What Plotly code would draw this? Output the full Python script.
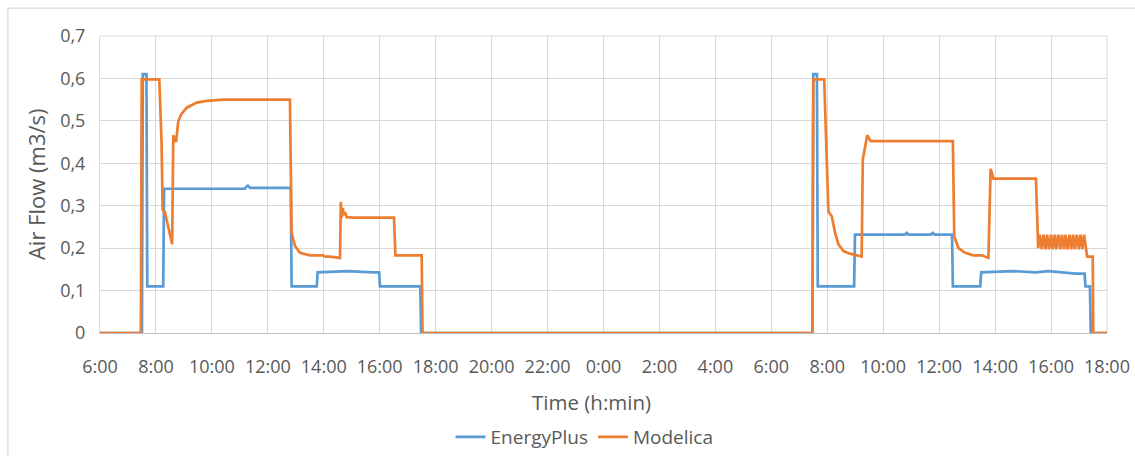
import plotly.graph_objects as go

# time in hours since midnight of day 1 (day 2 = +24)
ep_t = [6.0, 7.50, 7.53, 7.66, 7.69, 8.26, 8.29, 11.18, 11.26, 11.30, 11.36, 12.82, 12.85,
        13.75, 13.78, 14.87, 15.76, 15.98, 16.01, 17.45, 17.48,
        31.47, 31.50, 31.63, 31.66, 32.96, 32.99, 34.78, 34.84, 34.90, 35.70, 35.77, 35.84,
        36.46, 36.49, 37.47, 37.50, 38.62, 39.43, 39.90, 40.89, 41.20, 41.23, 41.39, 41.42, 42.0]
ep_v = [0.0, 0.0, 0.61, 0.61, 0.11, 0.11, 0.34, 0.34, 0.347, 0.347, 0.342, 0.342, 0.11,
        0.11, 0.143, 0.146, 0.143, 0.143, 0.11, 0.11, 0.0,
        0.0, 0.61, 0.61, 0.11, 0.11, 0.232, 0.232, 0.236, 0.232, 0.232, 0.236, 0.232,
        0.232, 0.11, 0.11, 0.143, 0.146, 0.143, 0.146, 0.140, 0.140, 0.11, 0.11, 0.0, 0.0]

mo_t = [6.0, 7.46, 7.49, 8.12, 8.20, 8.24, 8.32, 8.45, 8.58, 8.62, 8.68, 8.72, 8.80, 8.90,
        9.10, 9.46, 9.81, 10.41, 12.79, 12.85, 12.97, 13.15, 13.51, 13.97, 14.05, 14.22, 14.58,
        14.61, 14.64, 14.68, 14.72, 14.76, 14.82, 15.05, 16.51, 16.56, 17.50, 17.53,
        31.47, 31.50, 31.89, 31.96, 32.04, 32.16, 32.28, 32.40, 32.58, 32.81, 33.11, 33.23,
        33.27, 33.38, 33.43, 33.55, 36.49, 36.54, 36.69, 36.93, 37.22, 37.52, 37.76,
        37.84, 37.94, 39.46, 39.54,
        39.60, 39.67, 39.73, 39.80, 39.86, 39.93, 40.00, 40.06, 40.13, 40.19, 40.26, 40.33,
        40.39, 40.46, 40.52, 40.59, 40.66, 40.72, 40.79, 40.85, 40.92, 40.99, 41.05, 41.12,
        41.18, 41.25, 41.29, 41.49, 41.51, 42.0]
mo_v = [0.0, 0.0, 0.598, 0.598, 0.45, 0.29, 0.285, 0.25, 0.209, 0.466, 0.455, 0.45, 0.50, 0.515,
        0.531, 0.543, 0.547, 0.55, 0.55, 0.236, 0.205, 0.189, 0.183, 0.183, 0.180, 0.180, 0.177,
        0.309, 0.272, 0.295, 0.278, 0.285, 0.273, 0.272, 0.272, 0.183, 0.183, 0.0,
        0.0, 0.598, 0.598, 0.45, 0.287, 0.275, 0.236, 0.209, 0.193, 0.187, 0.183, 0.180,
        0.409, 0.450, 0.466, 0.452, 0.452, 0.228, 0.200, 0.189, 0.183, 0.183, 0.177,
        0.387, 0.364, 0.364, 0.200,
        0.232, 0.197, 0.232, 0.197, 0.232, 0.197, 0.232, 0.197, 0.232, 0.197, 0.232, 0.197,
        0.232, 0.197, 0.232, 0.197, 0.232, 0.197, 0.232, 0.197, 0.232, 0.197, 0.232, 0.197,
        0.232, 0.197, 0.180, 0.180, 0.0, 0.0]

tick_vals = list(range(6, 43, 2))
tick_text = ["6:00", "8:00", "10:00", "12:00", "14:00", "16:00", "18:00", "20:00", "22:00",
             "0:00", "2:00", "4:00", "6:00", "8:00", "10:00", "12:00", "14:00", "16:00", "18:00"]

TXT = "#595959"
GRID = "#D9D9D9"
FONT = "Open Sans"

fig = go.Figure()
fig.add_trace(go.Scatter(x=ep_t, y=ep_v, mode="lines", name="EnergyPlus",
                         line=dict(color="#5B9BD5", width=2.7)))
fig.add_trace(go.Scatter(x=mo_t, y=mo_v, mode="lines", name="Modelica",
                         line=dict(color="#ED7D31", width=2.7)))

fig.update_layout(
    width=1135, height=456,
    margin=dict(l=100, r=28, t=36, b=123, autoexpand=False),
    paper_bgcolor="white", plot_bgcolor="white",
    separators=",.",
    font=dict(family=FONT, color=TXT, size=18),
    xaxis=dict(range=[6, 42], tickvals=tick_vals, ticktext=tick_text,
               showgrid=True, gridcolor=GRID, gridwidth=1,
               showline=True, linecolor="#BFBFBF", linewidth=1.3, mirror=False,
               zeroline=False, ticks="", tickfont=dict(size=18, color=TXT, family=FONT),
               ticklabelstandoff=17, automargin=False),
    yaxis=dict(range=[0, 0.7], dtick=0.1, showgrid=True, gridcolor=GRID, gridwidth=1,
               showline=True, linecolor=GRID, linewidth=1, zeroline=False, ticks="",
               tickfont=dict(size=18, color=TXT, family=FONT), ticklabelstandoff=10,
               automargin=False),
    showlegend=True,
    legend=dict(orientation="h", x=0.515, xanchor="center", xref="container",
                y=1 - 437 / 456, yanchor="middle", yref="container",
                font=dict(size=19, color=TXT, family=FONT), bgcolor="rgba(0,0,0,0)",
                itemwidth=30, tracegroupgap=0),
    annotations=[
        dict(text="Time (h:min)", xref="paper", yref="paper", x=0.488, y=-0.232,
             xanchor="center", yanchor="middle", showarrow=False,
             font=dict(size=20.5, color=TXT, family=FONT)),
        dict(text="Air Flow (m3/s)", xref="paper", yref="paper", x=-0.064, y=0.5,
             xanchor="center", yanchor="middle", showarrow=False, textangle=-90,
             font=dict(size=22, color=TXT, family=FONT)),
    ],
    shapes=[
        dict(type="rect", xref="paper", yref="paper", x0=-0.0914, x1=1.2, y0=-0.6, y1=1.094,
             line=dict(color=GRID, width=1.2), fillcolor="rgba(0,0,0,0)", layer="below"),
        dict(type="line", xref="paper", yref="paper", x0=1, x1=1, y0=0, y1=1,
             line=dict(color=GRID, width=1), layer="below"),
        dict(type="line", xref="paper", yref="paper", x0=0, x1=1, y0=1, y1=1,
             line=dict(color=GRID, width=1), layer="below"),
    ],
)

fig.write_html("out.html")
